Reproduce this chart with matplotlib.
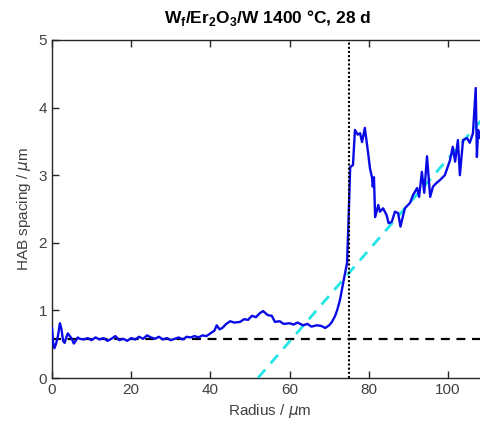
import matplotlib
matplotlib.use("Agg")
import matplotlib.pyplot as plt

plt.rcParams['font.family'] = ['Liberation Sans', 'DejaVu Sans']

# Blue measured HAB spacing profile
radius = [0.0, 0.3, 0.6, 1.0, 1.5, 2.0, 2.4, 2.8, 3.2, 3.6, 4.0, 4.5, 5.0, 5.5, 6.0, 6.5,
          7.0, 8.0, 9.0, 10.0, 11.0, 12.0, 13.0, 14.0, 15.0, 16.0, 17.0, 18.0, 19.0,
          20.0, 21.0, 22.0, 23.0, 24.0, 25.0, 26.0, 27.0, 28.0, 29.0, 30.0, 31.0, 32.0,
          33.0, 34.0, 35.0, 36.0, 37.0, 38.0, 39.0, 40.0, 41.0, 41.6, 42.3, 43.0, 44.0,
          45.0, 46.0, 47.5, 48.5, 49.5, 50.5, 51.5, 52.5, 53.3, 54.5, 55.5, 56.3, 57.5,
          58.5, 60.0, 61.0, 62.0, 63.4, 64.5, 65.5, 66.9, 68.0, 69.0, 70.0, 70.7, 71.5,
          72.0, 72.7, 73.5, 74.0, 74.5, 74.8, 75.3, 76.0, 76.5, 77.2, 77.8, 78.3, 79.0,
          79.8, 80.3, 80.8, 81.0, 81.3, 81.6, 82.4, 82.8, 83.6, 84.5, 85.0, 85.8, 86.6,
          87.4, 88.0, 89.1, 90.4, 91.2, 92.2, 92.7, 93.4, 94.0, 94.7, 95.5, 96.2, 97.0,
          98.0, 99.2, 100.5, 101.2, 101.8, 102.5, 103.0, 103.8, 104.8, 105.5, 106.3,
          107.0, 107.3, 107.6, 108.0, 108.5, 109.0, 110.0]
spacing = [0.74, 0.52, 0.44, 0.50, 0.62, 0.81, 0.72, 0.55, 0.52, 0.60, 0.66, 0.62, 0.58, 0.51,
           0.55, 0.60, 0.58, 0.57, 0.59, 0.56, 0.60, 0.57, 0.59, 0.55, 0.58, 0.62, 0.56, 0.58,
           0.55, 0.59, 0.57, 0.61, 0.58, 0.63, 0.60, 0.58, 0.61, 0.57, 0.59, 0.56, 0.58, 0.60,
           0.57, 0.61, 0.60, 0.62, 0.60, 0.63, 0.62, 0.66, 0.70, 0.78, 0.72, 0.74, 0.80,
           0.84, 0.82, 0.83, 0.87, 0.86, 0.92, 0.90, 0.96, 0.99, 0.93, 0.92, 0.83, 0.84,
           0.80, 0.81, 0.79, 0.82, 0.78, 0.80, 0.76, 0.78, 0.77, 0.74, 0.78, 0.83, 0.92,
           1.00, 1.15, 1.40, 1.55, 1.70, 2.19, 3.12, 3.15, 3.67, 3.60, 3.62, 3.49, 3.70,
           3.34, 3.10, 2.97, 2.83, 2.97, 2.38, 2.56, 2.46, 2.51, 2.41, 2.29, 2.31, 2.46,
           2.44, 2.24, 2.51, 2.59, 2.71, 2.81, 2.68, 3.05, 2.74, 3.28, 2.68, 2.83, 2.88,
           2.93, 3.00, 3.22, 3.42, 3.20, 3.52, 3.00, 3.52, 3.55, 3.48, 3.62,
           4.29, 3.27, 3.67, 3.55, 3.70, 3.60, 3.72]

# Reference lines
baseline_level = 0.58
interface_radius = 75.0
fit_x = [52.0, 110.0]
fit_y = [0.0, 3.92]

fig = plt.figure(figsize=(4.81, 4.30), dpi=100)
# axes extends past right edge of figure, as in reference
ax = fig.add_axes([52 / 481, 52 / 430, (110 * 3.96) / 481, 338 / 430])

ax.plot([0, 110], [baseline_level, baseline_level], color='black', linestyle=(0, (4, 3)),
        linewidth=1.6, zorder=2)
ax.plot([interface_radius, interface_radius], [0, 5], color='black', linestyle=(0, (1, 1)),
        linewidth=1.5, zorder=4)
ax.plot(fit_x, fit_y, color='#22e6e6', linestyle=(0, (4, 3)), linewidth=2.0, zorder=3)
ax.plot(radius, spacing, color='#0a0ae6', linewidth=1.7, zorder=3)

ax.set_xlim(0, 110)
ax.set_ylim(0, 5)
ax.set_xticks([0, 20, 40, 60, 80, 100])
ax.set_yticks([0, 1, 2, 3, 4, 5])

grey = '#262626'
for s in ax.spines.values():
    s.set_color(grey)
    s.set_linewidth(1.0)
ax.tick_params(direction='in', length=5, width=1.0, colors=grey, labelsize=11,
               top=True, right=True, labelcolor='#404040')

ax.set_xlabel('Radius / $\\mu$m', fontsize=11, color='#404040')
ax.set_ylabel('HAB spacing / $\\mu$m', fontsize=11, color='#404040', labelpad=4)

fig.text(268 / 481, 1 - 18 / 430,
         'W$_\\mathregular{f}$/Er$_\\mathregular{2}$O$_\\mathregular{3}$/W 1400 °C, 28 d',
         ha='center', va='center', fontsize=12.5, fontweight='bold')

fig.savefig('out.png', dpi=100)
